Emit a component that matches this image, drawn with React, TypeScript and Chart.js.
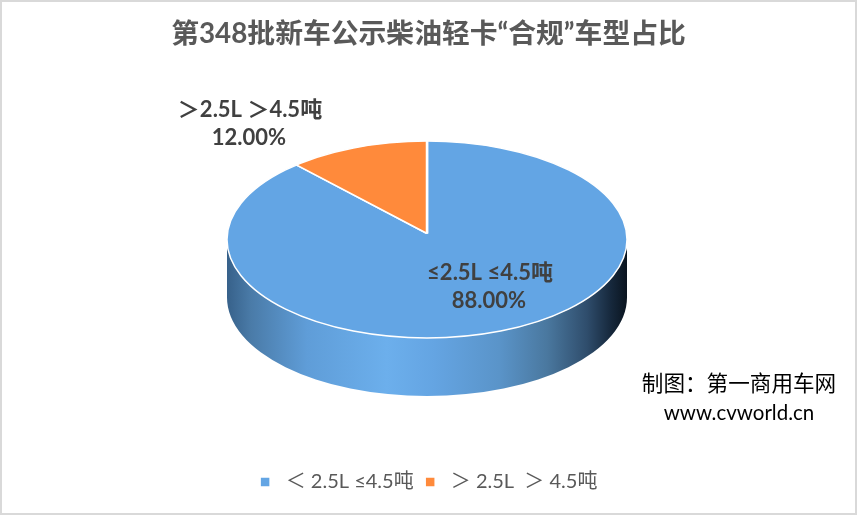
import { useEffect, useRef } from "react";
import Chart from "chart.js/auto";

const categories = [" ＜ 2.5L ≤4.5吨", " ＞ 2.5L  ＞ 4.5吨"];
const sliceLabels = ["≤2.5L ≤4.5吨", "＞2.5L ＞4.5吨"];
const percentLabels = ["88.00%", "12.00%"];
const shares = [88, 12];
const sliceColors = ["#63a5e4", "#ff8a3b"];

const titleText = "第348批新车公示柴油轻卡“合规”车型占比";
const creditLines = ["制图：第一商用车网", "www.cvworld.cn"];

const FONT = "Lato, 'Noto Sans CJK SC', sans-serif";
const PIE_CENTER_X = 427;
const PIE_CENTER_Y = 239.5;
const FACE_RX = 200;
const FACE_RY = 98.5;
const WALL_DEPTH = 58;
// the slices meet above the middle of the face because of the perspective,
// so the arcs are drawn oversized around that point and clipped to the face
const SLICE_TIP_Y = 233.5;
const ARC_RADIUS = 216;

// chart.js has no 3d pie, so squash the arcs and paint the wall underneath
const pie3d = {
  id: "pie3d",
  beforeDatasetsDraw(chart: Chart) {
    const { ctx } = chart;
    const arc = chart.getDatasetMeta(0).data[0] as any;
    const cx = PIE_CENTER_X;

    const wall = ctx.createLinearGradient(cx - FACE_RX, 0, cx + FACE_RX, 0);
    wall.addColorStop(0, "#37618a");
    wall.addColorStop(0.06, "#4a7ba8");
    wall.addColorStop(0.2, "#5f9dd8");
    wall.addColorStop(0.4, "#6cafec");
    wall.addColorStop(0.52, "#64a4e2");
    wall.addColorStop(0.68, "#5a94c9");
    wall.addColorStop(0.8, "#4a789f");
    wall.addColorStop(0.9, "#2f4d6c");
    wall.addColorStop(0.96, "#16283c");
    wall.addColorStop(1, "#0a141f");

    ctx.save();
    ctx.beginPath();
    ctx.ellipse(cx, PIE_CENTER_Y, FACE_RX, FACE_RY, 0, 0, Math.PI);
    ctx.ellipse(cx, PIE_CENTER_Y + WALL_DEPTH, FACE_RX, FACE_RY, 0, Math.PI, 0, true);
    ctx.closePath();
    ctx.fillStyle = wall;
    ctx.fill();
    ctx.restore();

    ctx.save();
    ctx.beginPath();
    ctx.ellipse(cx, PIE_CENTER_Y, FACE_RX, FACE_RY, 0, 0, Math.PI * 2);
    ctx.clip();
    ctx.translate(cx, SLICE_TIP_Y);
    ctx.scale(1, FACE_RY / FACE_RX);
    ctx.translate(-arc.x, -arc.y);
  },
  afterDatasetsDraw(chart: Chart) {
    const { ctx } = chart;
    ctx.restore();

    ctx.strokeStyle = "#ffffff";
    ctx.lineWidth = 1.5;
    ctx.beginPath();
    ctx.ellipse(PIE_CENTER_X, PIE_CENTER_Y, FACE_RX, FACE_RY, 0, 0, Math.PI * 2);
    ctx.stroke();

    ctx.fillStyle = "#404040";
    ctx.font = `bold 22px ${FONT}`;
    ctx.textAlign = "center";
    ctx.textBaseline = "middle";
    ctx.fillText(sliceLabels[0], 490, 273);
    ctx.fillText(percentLabels[0], 489, 301);
    ctx.fillText(sliceLabels[1], 250, 110);
    ctx.fillText(percentLabels[1], 249, 138);

    ctx.fillStyle = "#000000";
    ctx.font = `21.6px ${FONT}`;
    ctx.fillText(creditLines[0], 739, 384);
    ctx.font = `20.5px ${FONT}`;
    ctx.fillText(creditLines[1], 739, 413);

    // frame around the whole picture
    ctx.strokeStyle = "#d9d9d9";
    ctx.lineWidth = 2;
    ctx.strokeRect(1, 1, chart.width - 2, chart.height - 2);
  },
};

export default function App() {
  const chartRef = useRef<HTMLCanvasElement>(null);

  useEffect(() => {
    if (!chartRef.current) return;
    document.body.style.margin = "0";

    const chart = new Chart(chartRef.current, {
      type: "pie",
      data: {
        labels: categories,
        datasets: [
          {
            data: shares,
            backgroundColor: sliceColors,
            borderColor: "#ffffff",
            borderWidth: 2.5,
            radius: ARC_RADIUS,
          },
        ],
      },
      options: {
        responsive: false,
        animation: false,
        layout: { padding: { top: 17, bottom: 13 } },
        plugins: {
          title: {
            display: true,
            text: titleText,
            color: "#595959",
            font: { family: FONT, size: 27.8, weight: "bold" },
            padding: { top: 0, bottom: 0 },
          },
          legend: {
            position: "bottom",
            labels: {
              color: "#595959",
              font: { family: FONT, size: 20 },
              usePointStyle: true,
              pointStyle: "rect",
              boxWidth: 11,
              boxHeight: 11,
              padding: 11,
            },
          },
          tooltip: { enabled: false },
        },
      },
      plugins: [pie3d],
    });

    return () => chart.destroy();
  }, []);

  return <canvas ref={chartRef} width={857} height={515} style={{ display: "block" }} />;
}
